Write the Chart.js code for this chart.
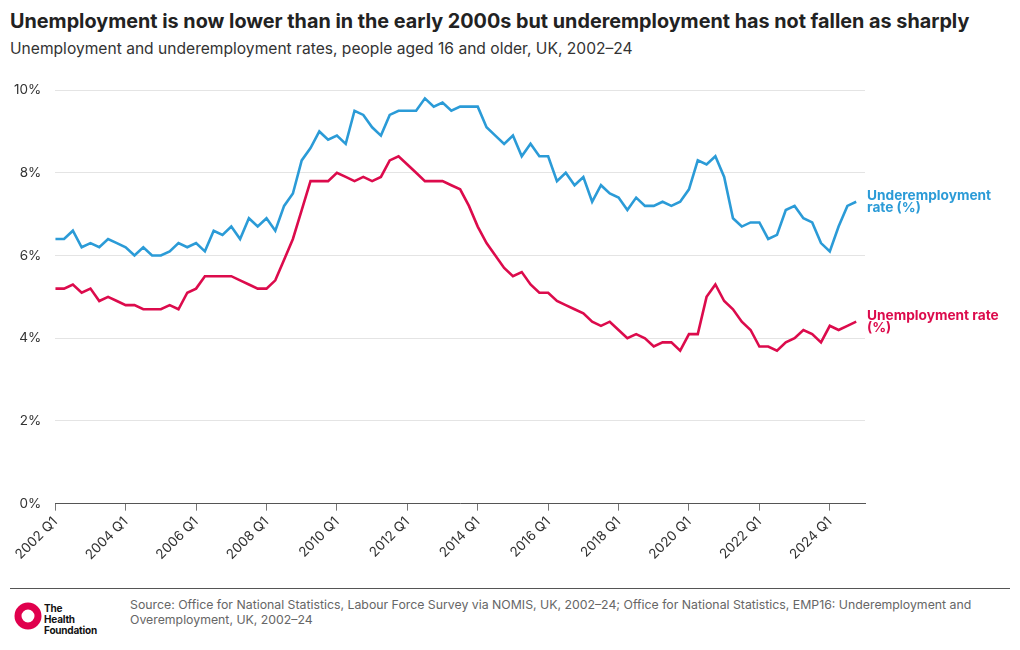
<!DOCTYPE html>
<html>
<head>
<meta charset="utf-8">
<script src="https://cdn.jsdelivr.net/npm/chart.js@4"></script>
<style>
  body { margin: 0; width: 1020px; height: 650px; background: #fff; font-family: "Inter", "Noto Sans", sans-serif; position: relative; overflow: hidden; }
  #title { position: absolute; left: 10px; top: 9px; font-size: 19.8px; font-weight: 700; color: #222; white-space: nowrap; }
  #subtitle { position: absolute; left: 10px; top: 39px; font-size: 15.6px; color: #333; white-space: nowrap; }
  #wrap { position: absolute; left: 0; top: 68px; width: 1020px; height: 498px; }
  #rule { position: absolute; left: 10px; top: 588px; width: 1000px; height: 0; border-top: 1px solid #555; }
  #logo { position: absolute; left: 14px; top: 602px; width: 28px; height: 28px; }
  #logoText { position: absolute; left: 44px; top: 603px; font-size: 10px; font-weight: 700; line-height: 11px; color: #111; letter-spacing: -0.2px; }
  #source { position: absolute; left: 130px; top: 597px; width: 870px; font-size: 12.3px; line-height: 15px; color: #666; }
</style>
</head>
<body>
<div id="title">Unemployment is now lower than in the early 2000s but underemployment has not fallen as sharply</div>
<div id="subtitle">Unemployment and underemployment rates, people aged 16 and older, UK, 2002–24</div>
<div id="wrap"><canvas id="chart"></canvas></div>
<div id="rule"></div>
<svg id="logo" viewBox="0 0 28 28"><circle cx="14" cy="14" r="10" fill="none" stroke="#e0004d" stroke-width="7"/></svg>
<div id="logoText">The<br>Health<br>Foundation</div>
<div id="source">Source: Office for National Statistics, Labour Force Survey via NOMIS, UK, 2002–24; Office for National Statistics, EMP16: Underemployment and Overemployment, UK, 2002–24</div>

<script>
// quarters 2002 Q1 .. 2024 Q4
const years = [];
for (let y = 2002; y <= 2024; y++) years.push(y);
const quarters = [];
years.forEach(y => { for (let q = 1; q <= 4; q++) quarters.push(y + " Q" + q); });

const underemployment = [
  6.4, 6.4, 6.6, 6.2, 6.3, 6.2, 6.4, 6.3, 6.2, 6.0, 6.2, 6.0,
  6.0, 6.1, 6.3, 6.2, 6.3, 6.1, 6.6, 6.5, 6.7, 6.4, 6.9, 6.7,
  6.9, 6.6, 7.2, 7.5, 8.3, 8.6, 9.0, 8.8, 8.9, 8.7, 9.5, 9.4,
  9.1, 8.9, 9.4, 9.5, 9.5, 9.5, 9.8, 9.6, 9.7, 9.5, 9.6, 9.6,
  9.6, 9.1, 8.9, 8.7, 8.9, 8.4, 8.7, 8.4, 8.4, 7.8, 8.0, 7.7,
  7.9, 7.3, 7.7, 7.5, 7.4, 7.1, 7.4, 7.2, 7.2, 7.3, 7.2, 7.3,
  7.6, 8.3, 8.2, 8.4, 7.9, 6.9, 6.7, 6.8, 6.8, 6.4, 6.5, 7.1,
  7.2, 6.9, 6.8, 6.3, 6.1, 6.7, 7.2, 7.3
];

const unemployment = [
  5.2, 5.2, 5.3, 5.1, 5.2, 4.9, 5.0, 4.9, 4.8, 4.8, 4.7, 4.7,
  4.7, 4.8, 4.7, 5.1, 5.2, 5.5, 5.5, 5.5, 5.5, 5.4, 5.3, 5.2,
  5.2, 5.4, 5.9, 6.4, 7.1, 7.8, 7.8, 7.8, 8.0, 7.9, 7.8, 7.9,
  7.8, 7.9, 8.3, 8.4, 8.2, 8.0, 7.8, 7.8, 7.8, 7.7, 7.6, 7.2,
  6.7, 6.3, 6.0, 5.7, 5.5, 5.6, 5.3, 5.1, 5.1, 4.9, 4.8, 4.7,
  4.6, 4.4, 4.3, 4.4, 4.2, 4.0, 4.1, 4.0, 3.8, 3.9, 3.9, 3.7,
  4.1, 4.1, 5.0, 5.3, 4.9, 4.7, 4.4, 4.2, 3.8, 3.8, 3.7, 3.9,
  4.0, 4.2, 4.1, 3.9, 4.3, 4.2, 4.3, 4.4
];

const seriesNames = [["Underemployment", "rate (%)"], ["Unemployment rate", "(%)"]];
const seriesColors = ["#2b9bd7", "#dc0b4c"];
const yTicks = [0, 2, 4, 6, 8, 10];

const endLabels = {
  id: "endLabels",
  afterDatasetsDraw(chart) {
    const ctx = chart.ctx;
    ctx.save();
    ctx.font = "700 13.7px Inter, 'Noto Sans', sans-serif";
    ctx.textBaseline = "middle";
    ctx.textAlign = "left";
    chart.data.datasets.forEach((ds, i) => {
      const meta = chart.getDatasetMeta(i);
      const pt = meta.data[meta.data.length - 1];
      const lines = seriesNames[i];
      ctx.fillStyle = seriesColors[i];
      lines.forEach((t, k) => {
        ctx.fillText(t, chart.chartArea.right + 2, pt.y - 6 + k * 12);
      });
    });
    ctx.restore();
  }
};

const toPoints = arr => arr.map((v, i) => ({ x: i, y: v }));

new Chart(document.getElementById("chart"), {
  type: "line",
  data: {
    datasets: [
      { label: "Underemployment rate (%)", data: toPoints(underemployment), borderColor: seriesColors[0], borderWidth: 2.6, pointRadius: 0, tension: 0 },
      { label: "Unemployment rate (%)", data: toPoints(unemployment), borderColor: seriesColors[1], borderWidth: 2.6, pointRadius: 0, tension: 0 }
    ]
  },
  options: {
    responsive: true,
    maintainAspectRatio: false,
    animation: false,
    layout: { padding: { top: 10, right: 155, left: 0, bottom: 0 } },
    plugins: { legend: { display: false }, tooltip: { enabled: false } },
    scales: {
      x: {
        type: "linear",
        min: 0,
        max: 92,
        grid: { drawOnChartArea: false, drawTicks: true, tickLength: 7, color: "#777" },
        border: { color: "#555", width: 1 },
        ticks: {
          stepSize: 8,
          includeBounds: false,
          autoSkip: false,
          minRotation: 45,
          maxRotation: 45,
          color: "#333",
          font: { family: "Inter, 'Noto Sans', sans-serif", size: 13.5 },
          callback: v => quarters[v]
        }
      },
      y: {
        min: 0,
        max: 10,
        grid: { color: "#e4e4e4", drawTicks: false },
        border: { display: false },
        afterBuildTicks: axis => { axis.ticks = yTicks.map(v => ({ value: v })); },
        ticks: {
          padding: 14,
          color: "#333",
          font: { family: "Inter, 'Noto Sans', sans-serif", size: 13.5 },
          callback: v => v + "%"
        }
      }
    }
  },
  plugins: [endLabels]
});
</script>
</body>
</html>
